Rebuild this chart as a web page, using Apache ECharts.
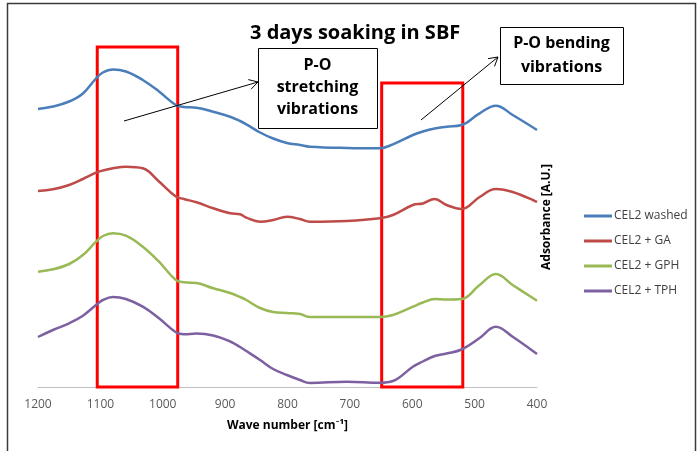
<!DOCTYPE html>
<html>
<head>
<meta charset="utf-8">
<script src="https://cdn.jsdelivr.net/npm/echarts@6/dist/echarts.min.js"></script>
<style>html,body{margin:0;padding:0;background:#fff;}#c{width:699px;height:451px;}</style>
</head>
<body>
<div id="c"></div>
<script>
// Wave numbers (cm^-1), shared by all series
var waveNumbers = [1200,1176,1150,1128,1107,1096,1080,1059,1032,1006,979,966,946,919,892,876,866,844,823,801,780,764,705,652,631,599,583,564,545,521,492,466,439,400];
// Absorbance (A.U., offset traces)
var cel2Washed = [278,280.5,285.5,293.5,308.5,314.5,317.5,315.5,307,295.5,282,280,279.3,275.3,270.3,266,262.7,254.5,248.5,244,242,240.3,239,238.7,242.7,252,255.5,258.5,260.3,262,273.7,281.3,272,257];
var cel2GA     = [196,197.7,202,208,214.3,216.5,218.7,220.3,218.7,205.5,190.5,188,184.7,178.7,173.7,172.7,169.3,165.3,167,170.3,168,165.3,166,168.7,172,182,183.5,188,182,178,190,198,195,185];
var cel2GPH    = [115.3,117.7,123,132,145.3,151,153.7,151.3,140.3,125.3,107,104.7,104,98.7,94,90,87,79,75,74,73,70,70,70,72,80.3,84.5,88,87.5,88,102,113,102,86.3];
var cel2TPH    = [50,57,63.7,71.3,82,87,90,88,80.3,68.7,54.7,52.7,53.5,51.5,45.5,40,36,27,18,12,7,4,5.3,4.3,6,20.3,25.5,31,33.5,37.5,49,60.3,50.3,33];
var seriesNames = ['CEL2 washed','CEL2 + GA','CEL2 + GPH','CEL2 + TPH'];
var seriesValues = [cel2Washed, cel2GA, cel2GPH, cel2TPH];
var seriesColors = ['#4A7EBB','#BE4B48','#98B954','#7D60A0'];
// Highlighted bands [from, to] in wave numbers, and their heights
var bandStretch = [1105, 976];
var bandBending = [649, 519];
var bandTops = [340, 304];
var xTicks = {min: 400, max: 1200, interval: 100};

function pairs(vals){ return waveNumbers.map(function(w,i){ return [w, vals[i]]; }); }

var FONT = '"Open Sans", Lato, "DejaVu Sans", sans-serif';
var series = seriesNames.map(function(n,i){
  return {
    name: n, type: 'line', data: pairs(seriesValues[i]), smooth: 0.4,
    showSymbol: false, symbol: 'none', z: 2,
    lineStyle: {width: 2.5, color: seriesColors[i]},
    itemStyle: {color: seriesColors[i]}
  };
});
series.push({
  name: 'bands', type: 'line', data: [], z: 4, silent: true,
  markArea: {
    silent: true,
    itemStyle: {color: 'rgba(0,0,0,0)', borderColor: '#FF0000', borderWidth: 3},
    data: [
      [{xAxis: bandStretch[0], yAxis: 0}, {xAxis: bandStretch[1], yAxis: bandTops[0]}],
      [{xAxis: bandBending[0], yAxis: 0}, {xAxis: bandBending[1], yAxis: bandTops[1]}]
    ]
  }
});

var chart = echarts.init(document.getElementById('c'), null, {renderer: 'canvas'});
chart.setOption({
  animation: false,
  backgroundColor: '#fff',
  title: {
    text: '3 days soaking in SBF', left: 245, top: 18,
    textStyle: {fontFamily: FONT, fontSize: 20, fontWeight: 'bold', color: '#000'}
  },
  grid: {left: 38, right: 162, top: 47, bottom: 64, containLabel: false},
  xAxis: {
    type: 'value', inverse: true, min: xTicks.min, max: xTicks.max, interval: xTicks.interval,
    name: 'Wave number [cm\u207B\u00B9]', nameLocation: 'middle', nameGap: 33,
    nameTextStyle: {fontFamily: FONT, fontSize: 12, fontWeight: 'bold', color: '#000'},
    axisLine: {show: true, lineStyle: {color: '#BFBFBF', width: 1}},
    axisTick: {show: false},
    splitLine: {show: false},
    axisLabel: {fontFamily: FONT, fontSize: 12, color: '#595959', margin: 12,
      formatter: function(v){ return String(v); }}
  },
  yAxis: {
    type: 'value', min: 0, max: 340, position: 'right',
    name: 'Adsorbance [A.U.]', nameLocation: 'middle', nameGap: 4, nameRotate: 90,
    nameTextStyle: {fontFamily: FONT, fontSize: 12, fontWeight: 'bold', color: '#000'},
    axisLine: {show: false}, axisTick: {show: false}, axisLabel: {show: false}, splitLine: {show: false}
  },
  legend: {
    data: seriesNames, orient: 'vertical', left: 579, top: 204,
    icon: 'rect', itemWidth: 28, itemHeight: 3, itemGap: 11,
    textStyle: {fontFamily: FONT, fontSize: 12, color: '#404040', lineHeight: 14, padding: [0,0,0,-3]}
  },
  series: series,
  graphic: [
    {type: 'rect', silent: true, z: 0, shape: {x: 7.5, y: 3.5, width: 688, height: 470},
     style: {fill: 'none', stroke: '#3a3a3a', lineWidth: 1.5}},
    {type: 'line', z: 100, shape: {x1: 124, y1: 121, x2: 258, y2: 82}, style: {stroke: '#000', lineWidth: 1}},
    {type: 'polyline', z: 100, shape: {points: [[248.3,79.6],[258,82],[251.1,89.2]]}, style: {stroke: '#000', fill: 'none', lineWidth: 1}},
    {type: 'line', z: 100, shape: {x1: 421, y1: 120, x2: 498, y2: 57}, style: {stroke: '#000', lineWidth: 1}},
    {type: 'polyline', z: 100, shape: {points: [[488.1,58.6],[498,57],[494.5,66.4]]}, style: {stroke: '#000', fill: 'none', lineWidth: 1}},
    {type: 'rect', z: 100, shape: {x: 258.5, y: 48.5, width: 119, height: 80}, style: {fill: '#fff', stroke: '#000', lineWidth: 1}},
    {type: 'text', z: 101, x: 317.5, y: 87.5, style: {text: 'P-O\nstretching\nvibrations', align: 'center', verticalAlign: 'middle',
      fontFamily: FONT, fontSize: 16, fontWeight: 'bold', lineHeight: 22, fill: '#000'}},
    {type: 'rect', z: 100, shape: {x: 500.5, y: 27.5, width: 123, height: 57}, style: {fill: '#fff', stroke: '#000', lineWidth: 1}},
    {type: 'text', z: 101, x: 561.5, y: 55, style: {text: 'P-O bending\nvibrations', align: 'center', verticalAlign: 'middle',
      fontFamily: FONT, fontSize: 16, fontWeight: 'bold', lineHeight: 24, fill: '#000'}}
  ]
});
</script>
</body>
</html>
